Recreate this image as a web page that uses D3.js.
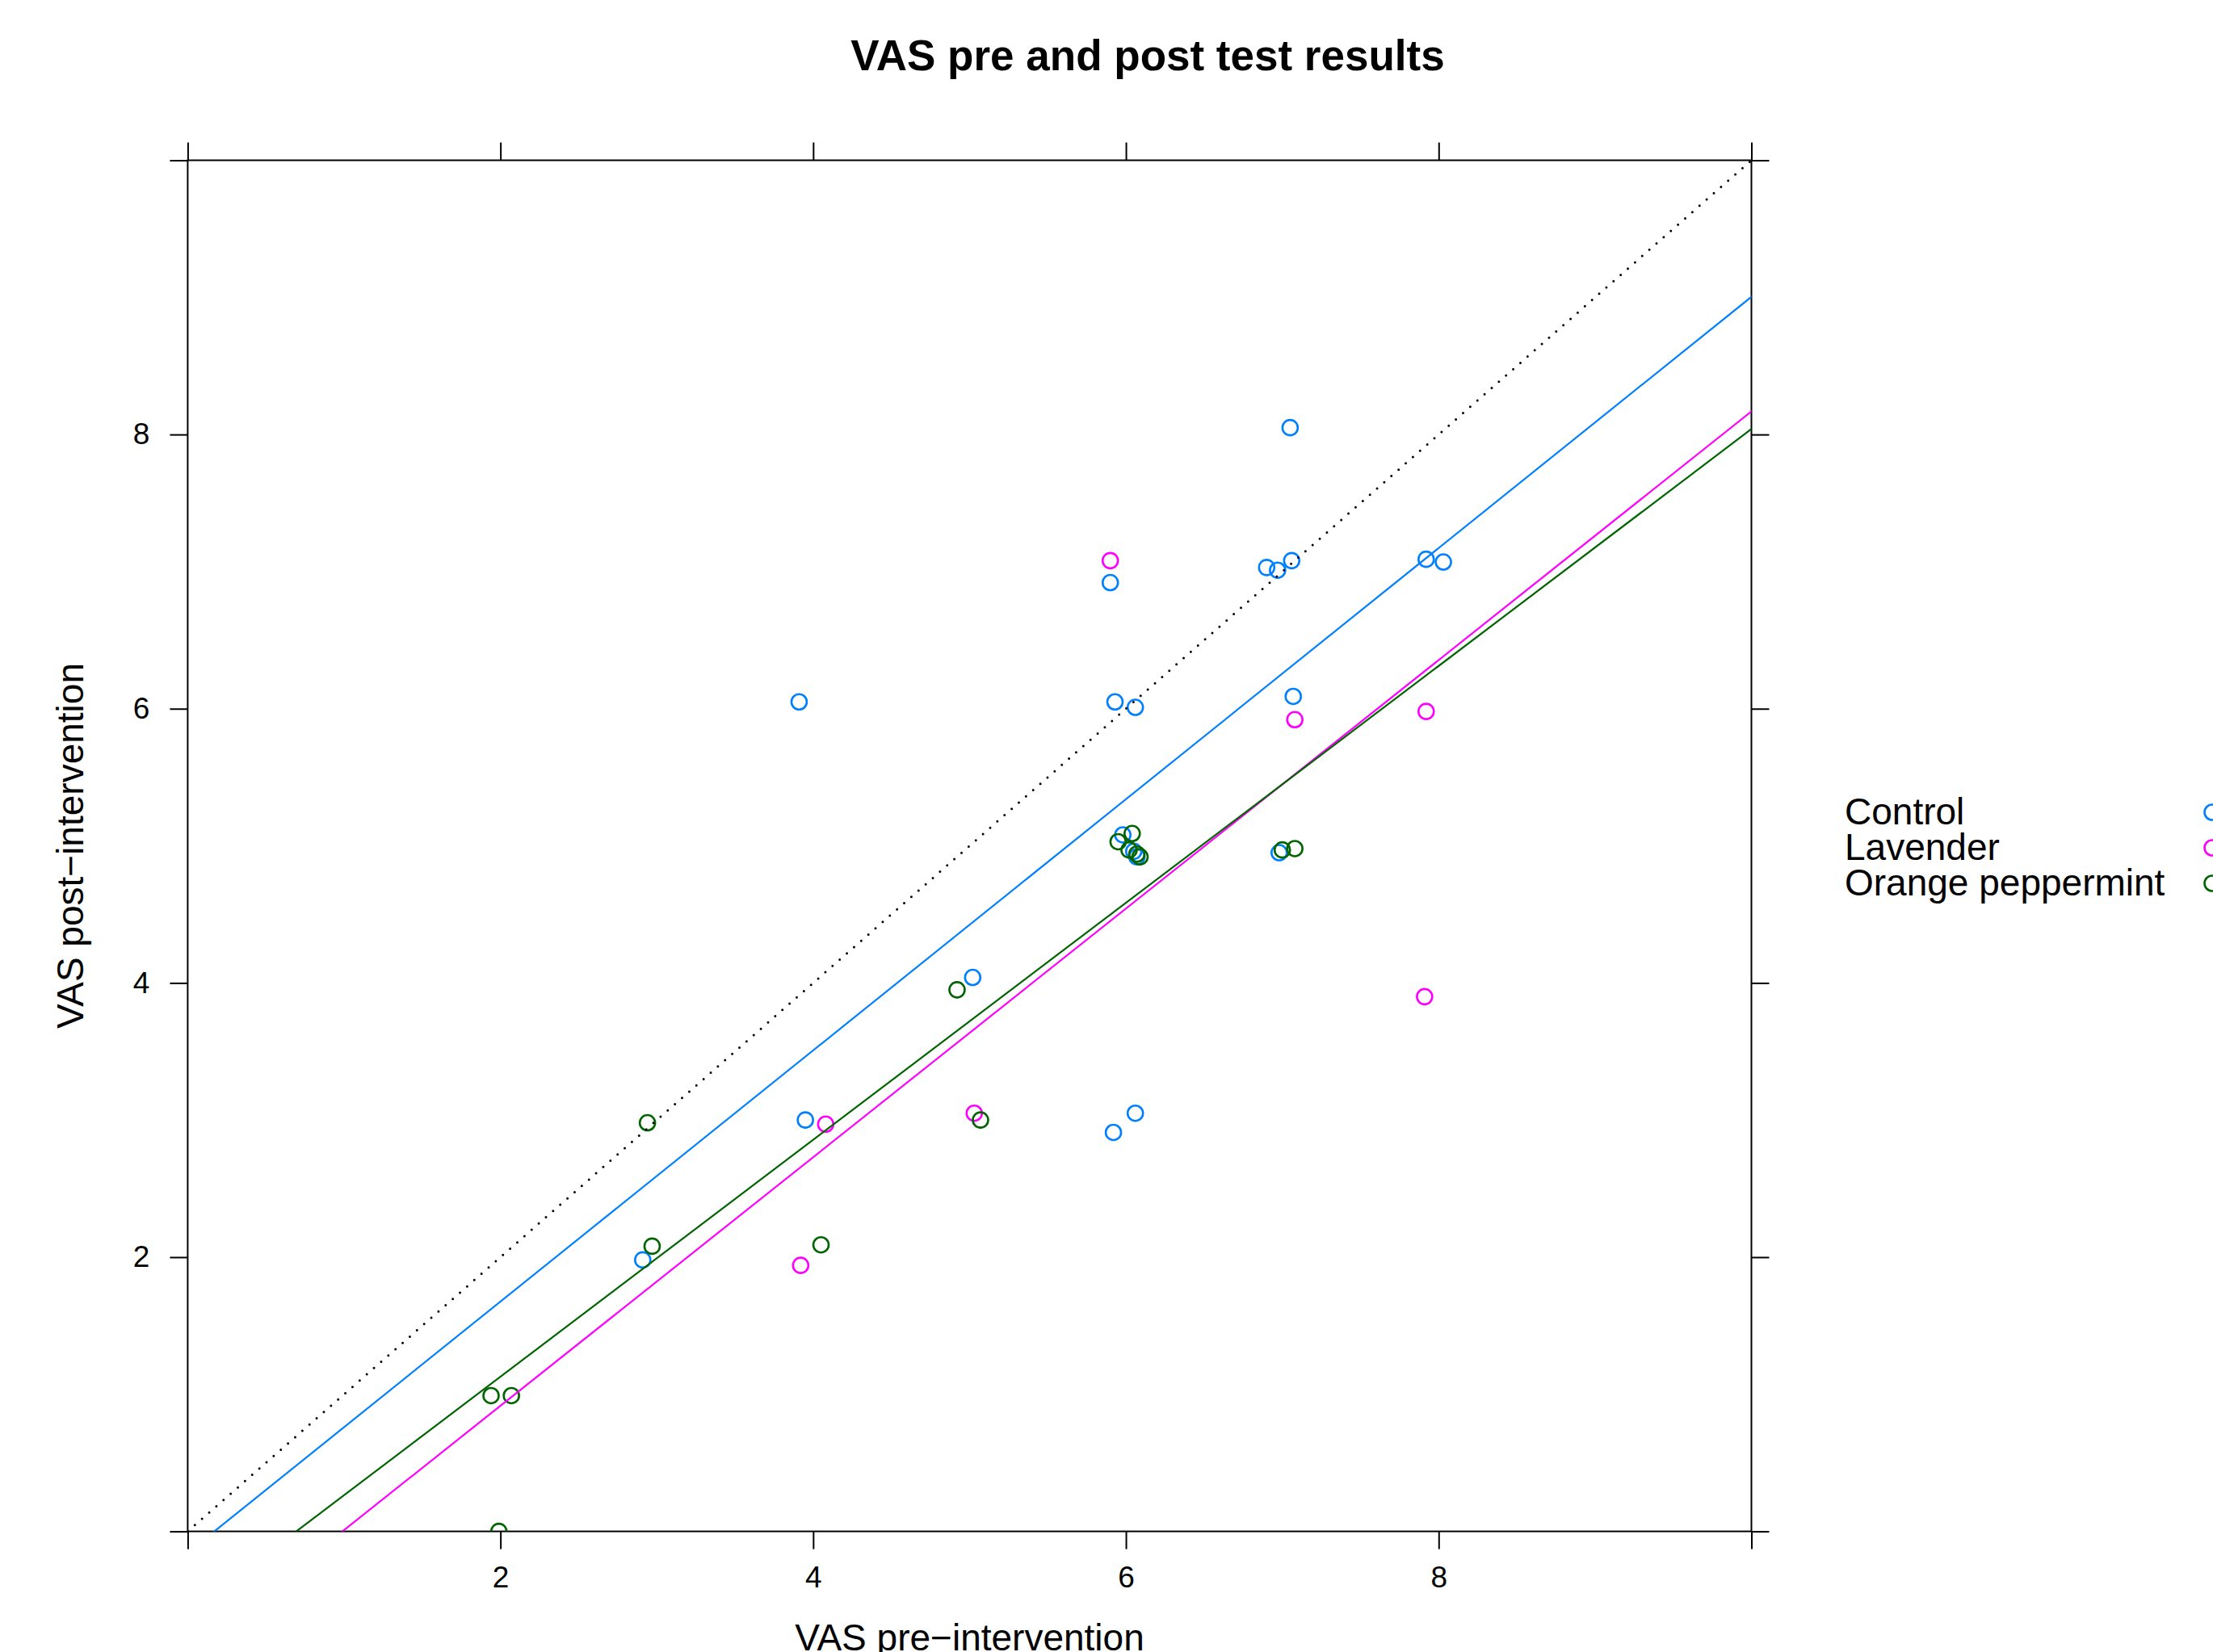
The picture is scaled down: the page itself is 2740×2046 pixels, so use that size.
<!DOCTYPE html>
<html>
<head>
<meta charset="utf-8">
<script src="https://cdn.jsdelivr.net/npm/d3@7"></script>
<style>
  body { margin: 0; background: #fff; }
  text { font-family: "Liberation Sans", Arial, Helvetica, sans-serif; }
</style>
</head>
<body>
<div id="chart"></div>
<script>
// groups and colours
const groups = ['Control', 'Lavender', 'Orange peppermint'];
const colors = ['#0080ff', '#ff00ff', '#006400'];

// VAS pre / post per group (jitter included)
const controlPre  = [3.91, 5.90, 7.05, 6.90, 6.97, 7.06, 7.92, 8.03, 5.93, 6.06, 7.07, 5.98, 6.05, 6.07, 6.98, 5.02, 3.95, 5.92, 6.06, 2.91];
const controlPost = [6.05, 6.92, 8.05, 7.03, 7.01, 7.08, 7.09, 7.07, 6.05, 6.01, 6.09, 5.08, 4.96, 4.92, 4.95, 4.04, 3.00, 2.91, 3.05, 1.98];
const lavenderPre  = [5.90, 7.08, 7.92, 7.91, 4.08, 5.03, 3.92];
const lavenderPost = [7.08, 5.92, 5.98, 3.90, 2.97, 3.05, 1.94];
const mintPre  = [6.04, 5.95, 6.02, 6.07, 6.09, 7.00, 7.08, 4.92, 5.07, 2.94, 2.97, 4.05, 1.94, 2.07, 1.99];
const mintPost = [5.09, 5.03, 4.97, 4.94, 4.92, 4.97, 4.98, 3.95, 3.00, 2.98, 2.08, 2.09, 0.99, 0.99, 0.00];

// fitted lines per group
const fitIntercept = [-0.156, -0.897, -0.600];
const fitSlope = [0.916, 0.9065, 0.864];

// axes
const tickValues = [0, 2, 4, 6, 8, 10];
const tickLabels = ['', '2', '4', '6', '8', ''];

const W = 2740, H = 2046;
const panel = { left: 232.4, right: 2168.5, top: 198.5, bottom: 1896.6 };

const x = d3.scaleLinear().domain([0, 10]).range([panel.left, panel.right]);
const y = d3.scaleLinear().domain([0, 10]).range([panel.bottom, panel.top]);

const svg = d3.select('#chart').append('svg')
  .attr('width', W)
  .attr('height', H);

svg.append('defs').append('clipPath')
  .attr('id', 'panel-clip')
  .append('rect')
  .attr('x', panel.left)
  .attr('y', panel.top)
  .attr('width', panel.right - panel.left)
  .attr('height', panel.bottom - panel.top);

// title
svg.append('text')
  .attr('x', 1421)
  .attr('y', 87)
  .attr('text-anchor', 'middle')
  .attr('font-size', 53)
  .attr('font-weight', 'bold')
  .text('VAS pre and post test results');

// axes on all four sides, ticks outward
const fmt = (d, i) => tickLabels[i];
const tickSize = 22;

const axisStyle = g => {
  g.select('.domain').remove();
  g.selectAll('.tick line').attr('stroke', '#000').attr('stroke-width', 2);
  g.selectAll('.tick text').attr('font-size', 37).attr('fill', '#000');
  g.attr('font-family', null);
};

svg.append('g')
  .attr('transform', `translate(0,${panel.bottom})`)
  .call(d3.axisBottom(x).tickValues(tickValues).tickFormat(fmt).tickSize(tickSize).tickPadding(21))
  .call(axisStyle);

svg.append('g')
  .attr('transform', `translate(0,${panel.top})`)
  .call(d3.axisTop(x).tickValues(tickValues).tickFormat(() => '').tickSize(tickSize))
  .call(axisStyle);

svg.append('g')
  .attr('transform', `translate(${panel.left},0)`)
  .call(d3.axisLeft(y).tickValues(tickValues).tickFormat(fmt).tickSize(tickSize).tickPadding(25))
  .call(axisStyle);

svg.append('g')
  .attr('transform', `translate(${panel.right},0)`)
  .call(d3.axisRight(y).tickValues(tickValues).tickFormat(() => '').tickSize(tickSize))
  .call(axisStyle);

// panel frame
svg.append('rect')
  .attr('x', panel.left)
  .attr('y', panel.top)
  .attr('width', panel.right - panel.left)
  .attr('height', panel.bottom - panel.top)
  .attr('fill', 'none')
  .attr('stroke', '#000')
  .attr('stroke-width', 2);

const plot = svg.append('g').attr('clip-path', 'url(#panel-clip)');

// points
const series = [
  { pre: controlPre, post: controlPost },
  { pre: lavenderPre, post: lavenderPost },
  { pre: mintPre, post: mintPost }
];

series.forEach((s, gi) => {
  const pts = s.pre.map((v, i) => ({ pre: v, post: s.post[i] }));
  plot.append('g').selectAll('circle')
    .data(pts)
    .join('circle')
    .attr('cx', d => x(d.pre))
    .attr('cy', d => y(d.post))
    .attr('r', 9.5)
    .attr('fill', 'none')
    .attr('stroke', colors[gi])
    .attr('stroke-width', 2.6);
});

// identity line (dotted)
const line = d3.line().x(d => x(d[0])).y(d => y(d[1]));
plot.append('path')
  .datum([[0, 0], [10, 10]])
  .attr('d', line)
  .attr('fill', 'none')
  .attr('stroke', '#000')
  .attr('stroke-width', 3)
  .attr('stroke-linecap', 'round')
  .attr('stroke-dasharray', '0 11.8');

// fitted lines
groups.forEach((g, gi) => {
  const f = v => fitIntercept[gi] + fitSlope[gi] * v;
  plot.append('path')
    .datum([[-1, f(-1)], [11, f(11)]])
    .attr('d', line)
    .attr('fill', 'none')
    .attr('stroke', colors[gi])
    .attr('stroke-width', 2.2);
});

// axis labels
svg.append('text')
  .attr('x', (panel.left + panel.right) / 2)
  .attr('y', 2044)
  .attr('text-anchor', 'middle')
  .attr('font-size', 46)
  .text('VAS pre\u2212intervention');

svg.append('text')
  .attr('transform', `translate(103,${(panel.top + panel.bottom) / 2}) rotate(-90)`)
  .attr('text-anchor', 'middle')
  .attr('font-size', 46)
  .text('VAS post\u2212intervention');

// legend
const legend = svg.append('g');
groups.forEach((g, gi) => {
  const base = 1021 + gi * 44;
  legend.append('text')
    .attr('x', 2284)
    .attr('y', base)
    .attr('font-size', 46)
    .text(g);
  legend.append('circle')
    .attr('cx', 2739)
    .attr('cy', base - 15)
    .attr('r', 9.5)
    .attr('fill', 'none')
    .attr('stroke', colors[gi])
    .attr('stroke-width', 2.6);
});
</script>
</body>
</html>
